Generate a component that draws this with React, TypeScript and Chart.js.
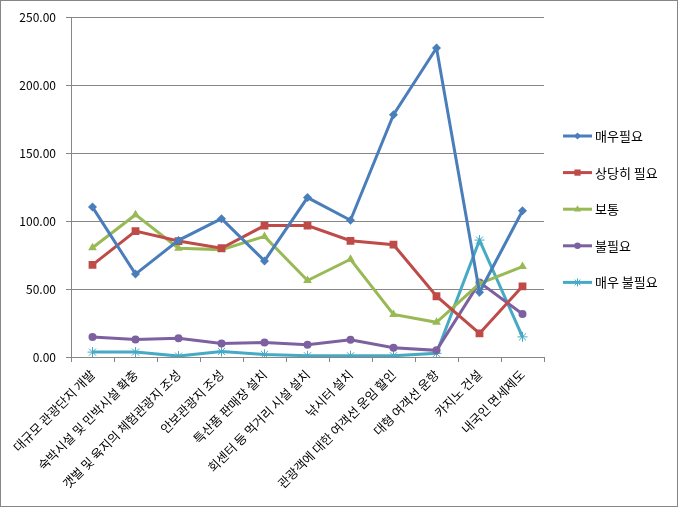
import React, { useEffect, useRef } from "react";
import { Chart, registerables } from "chart.js";

Chart.register(...registerables);

const categories = [
  "대규모 관광단지 개발",
  "숙박시설 및 민박시설 확충",
  "갯벌 및 육지의 체험관광지 조성",
  "안보관광지 조성",
  "특산품 판매장 설치",
  "회센터 등 먹거리 시설 설치",
  "낚시터 설치",
  "관광객에 대한 여객선 운임 할인",
  "대형 여객선 운항",
  "카지노 건설",
  "내국인 면세제도",
];

const seriesNames = ["매우필요", "상당히 필요", "보통", "불필요", "매우 불필요"];

const veryNeeded = [110.3, 61.0, 85.8, 101.8, 70.7, 117.3, 100.6, 178.3, 227.4, 47.6, 107.6];
const fairlyNeeded = [67.8, 92.6, 85.3, 80.0, 96.7, 96.7, 85.5, 82.6, 44.7, 17.3, 52.0];
const neutral = [80.4, 104.7, 80.0, 79.0, 88.7, 56.3, 71.9, 31.3, 25.5, 54.0, 66.5];
const notNeeded = [14.8, 12.9, 13.8, 10.0, 10.7, 9.0, 12.6, 6.8, 4.9, 54.9, 31.6];
const veryNotNeeded = [3.6, 3.6, 0.7, 4.1, 1.9, 0.9, 0.9, 0.9, 2.7, 86.0, 14.8];

const yTicks = [0, 50, 100, 150, 200, 250];

const colors = ["#4A7EBB", "#BE4B48", "#98B954", "#7D60A0", "#46AAC5"];
const pointStyles = ["rectRot", "rect", "triangle", "circle", "star"];
const pointRadii = [4.5, 5.5, 5, 4, 5];

const FONT = "'Noto Sans CJK KR', 'Noto Sans', sans-serif";

function drawMarker(ctx: CanvasRenderingContext2D, style: string, x: number, y: number, r: number, color: string) {
  ctx.save();
  ctx.fillStyle = color;
  ctx.strokeStyle = color;
  ctx.lineWidth = 1;
  ctx.beginPath();
  if (style === "rectRot") {
    ctx.moveTo(x, y - r);
    ctx.lineTo(x + r, y);
    ctx.lineTo(x, y + r);
    ctx.lineTo(x - r, y);
    ctx.closePath();
    ctx.fill();
  } else if (style === "rect") {
    const s = r * Math.SQRT1_2;
    ctx.rect(x - s, y - s, 2 * s, 2 * s);
    ctx.fill();
  } else if (style === "triangle") {
    ctx.moveTo(x, y - r);
    ctx.lineTo(x + r * 0.9, y + r * 0.6);
    ctx.lineTo(x - r * 0.9, y + r * 0.6);
    ctx.closePath();
    ctx.fill();
  } else if (style === "circle") {
    ctx.arc(x, y, r, 0, Math.PI * 2);
    ctx.fill();
  } else {
    for (let k = 0; k < 4; k++) {
      const a = (k * Math.PI) / 4;
      ctx.moveTo(x - Math.cos(a) * r, y - Math.sin(a) * r);
      ctx.lineTo(x + Math.cos(a) * r, y + Math.sin(a) * r);
    }
    ctx.stroke();
  }
  ctx.restore();
}

const framePlugin = {
  id: "frameAndLegend",
  beforeDraw(chart: any) {
    const ctx = chart.ctx;
    ctx.save();
    ctx.fillStyle = "#ffffff";
    ctx.fillRect(0, 0, chart.width, chart.height);
    ctx.restore();
  },
  afterDraw(chart: any) {
    const ctx: CanvasRenderingContext2D = chart.ctx;
    ctx.save();
    ctx.strokeStyle = "#868686";
    ctx.lineWidth = 1;
    ctx.strokeRect(0.5, 0.5, chart.width - 1, chart.height - 1);
    // legend
    const x0 = 563;
    const x1 = 592;
    const startY = 136;
    const gap = 36.6;
    chart.data.datasets.forEach((ds: any, i: number) => {
      const y = startY + i * gap;
      ctx.strokeStyle = ds.borderColor;
      ctx.lineWidth = 3;
      ctx.beginPath();
      ctx.moveTo(x0, y);
      ctx.lineTo(x1, y);
      ctx.stroke();
      drawMarker(ctx, pointStyles[i], (x0 + x1) / 2, y, pointRadii[i] * 0.8, ds.borderColor);
      ctx.fillStyle = "#000000";
      ctx.font = `13px ${FONT}`;
      ctx.textBaseline = "middle";
      ctx.textAlign = "left";
      ctx.fillText(ds.label, 595, y);
    });
    ctx.restore();
  },
};

export default function App() {
  const canvasRef = useRef<HTMLCanvasElement | null>(null);

  useEffect(() => {
    if (!canvasRef.current) return;
    const seriesData = [veryNeeded, fairlyNeeded, neutral, notNeeded, veryNotNeeded];
    const chart = new Chart(canvasRef.current, {
      type: "line",
      data: {
        labels: categories,
        datasets: seriesData.map((d, i) => ({
          label: seriesNames[i],
          data: d,
          borderColor: colors[i],
          backgroundColor: colors[i],
          borderWidth: 3,
          pointStyle: pointStyles[i] as any,
          pointRadius: pointRadii[i],
          pointBorderWidth: i === 4 ? 1 : 0,
          pointBorderColor: colors[i],
          pointBackgroundColor: colors[i],
          tension: 0,
          fill: false,
        })),
      },
      options: {
        animation: false,
        responsive: true,
        maintainAspectRatio: false,
        layout: { padding: { top: 14, right: 134, left: 0, bottom: 0 } },
        plugins: {
          legend: { display: false },
          tooltip: { enabled: false },
        },
        scales: {
          x: {
            type: "category",
            offset: true,
            afterFit: (scale: any) => {
              scale.height = 150;
            },
            grid: {
              offset: true,
              drawOnChartArea: false,
              drawTicks: true,
              tickLength: 5,
              color: "#868686",
            },
            border: { display: true, color: "#868686", width: 1 },
            ticks: {
              autoSkip: false,
              maxRotation: 45,
              minRotation: 45,
              padding: 5,
              color: "#000000",
              font: { family: FONT, size: 12.5 },
            },
          },
          y: {
            min: 0,
            max: 250,
            afterFit: (scale: any) => {
              scale.width = 71;
            },
            afterBuildTicks: (scale: any) => {
              scale.ticks = yTicks.map((v) => ({ value: v }));
            },
            grid: {
              color: "#868686",
              drawTicks: true,
              tickLength: 5,
            },
            border: { display: true, color: "#868686", width: 1 },
            ticks: {
              padding: 10,
              color: "#000000",
              font: { family: FONT, size: 12 },
              callback: (v: any) => Number(v).toFixed(2),
            },
          },
        },
      },
      plugins: [framePlugin],
    });
    return () => chart.destroy();
  }, []);

  return (
    <div style={{ position: "fixed", left: 0, top: 0, width: 678, height: 507 }}>
      <canvas ref={canvasRef} />
    </div>
  );
}
